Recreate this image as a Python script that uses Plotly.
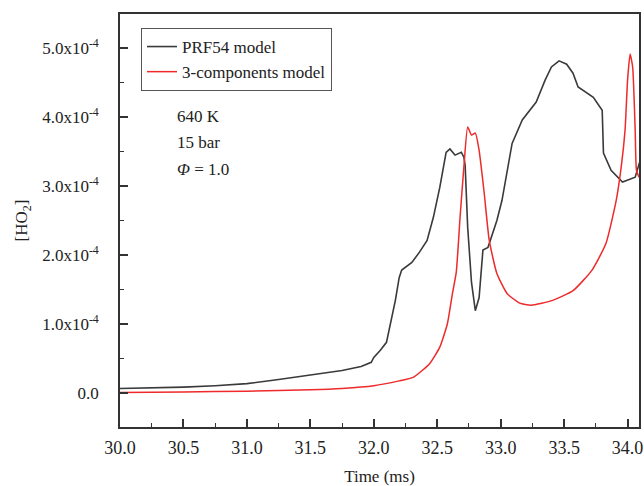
import plotly.graph_objects as go

# HO2 mole fraction histories (x1e-4) for the two kinetic models
prf54_time = [30.0, 30.25, 30.5, 30.75, 31.0, 31.25, 31.5, 31.75, 31.9, 31.98, 32.0, 32.05,
              32.1, 32.17, 32.2, 32.22, 32.3, 32.36, 32.42, 32.47, 32.52, 32.57, 32.6,
              32.64, 32.69, 32.71, 32.72, 32.74, 32.77, 32.80, 32.83, 32.86, 32.90, 32.97,
              33.01, 33.09, 33.17, 33.28, 33.35, 33.40, 33.46, 33.52, 33.57, 33.61, 33.73,
              33.80, 33.81, 33.87, 33.96, 34.06, 34.10]
prf54_ho2 = [0.06, 0.065, 0.08, 0.10, 0.13, 0.19, 0.26, 0.32, 0.38, 0.44, 0.51, 0.61,
             0.73, 1.34, 1.67, 1.78, 1.89, 2.04, 2.21, 2.55, 2.98, 3.49, 3.54,
             3.45, 3.49, 3.42, 3.3, 2.4, 1.6, 1.19, 1.38, 2.07, 2.11, 2.50,
             2.79, 3.62, 3.96, 4.22, 4.54, 4.73, 4.82, 4.77, 4.64, 4.44, 4.29,
             4.10, 3.48, 3.23, 3.06, 3.13, 3.38]

three_comp_time = [30.0, 30.5, 31.0, 31.5, 31.75, 32.0, 32.2, 32.31, 32.44, 32.52, 32.58,
                   32.62, 32.65, 32.68, 32.71, 32.74, 32.77, 32.80, 32.83, 32.87,
                   32.91, 32.97, 33.05, 33.15, 33.24, 33.41, 33.57, 33.72, 33.83, 33.91,
                   33.95, 33.98, 34.00, 34.02, 34.04, 34.06, 34.07, 34.09]
three_comp_ho2 = [0.0, 0.01, 0.02, 0.04, 0.06, 0.10, 0.17, 0.22, 0.42, 0.66, 1.0,
                  1.44, 1.75, 2.55, 3.28, 3.86, 3.74, 3.77, 3.52, 2.90,
                  2.21, 1.73, 1.44, 1.30, 1.27, 1.34, 1.48, 1.78, 2.17, 2.79,
                  3.28, 3.81, 4.54, 4.92, 4.73, 3.81, 3.23, 3.13]

x_ticks = [30.0, 30.5, 31.0, 31.5, 32.0, 32.5, 33.0, 33.5, 34.0]
y_ticks = [0.0, 1.0, 2.0, 3.0, 4.0, 5.0]
scale = 1e-4

FONT = "Liberation Serif, Times New Roman, serif"
INK = "#222"

fig = go.Figure()
fig.add_trace(go.Scatter(
    x=prf54_time, y=[v * scale for v in prf54_ho2], mode="lines",
    name="PRF54 model", line=dict(color="#3a3a3a", width=1.6)))
fig.add_trace(go.Scatter(
    x=three_comp_time, y=[v * scale for v in three_comp_ho2], mode="lines",
    name="3-components model",
    line=dict(color="#ee2a2a", width=1.5, shape="spline", smoothing=0.5)))

ytext = ["0.0"] + [f"{v:.1f}x10<sup>-4</sup>" for v in y_ticks[1:]]

fig.update_xaxes(
    range=[30.0, 34.09], tickvals=x_ticks, ticktext=[f"{v:.1f}" for v in x_ticks],
    ticks="inside", ticklen=8, tickwidth=1.5, tickcolor="#333",
    minor=dict(ticks="inside", ticklen=4, tickwidth=1.3, tickcolor="#333", dtick=0.25),
    showline=True, linecolor="#333", linewidth=1.6, mirror=True,
    showgrid=False, zeroline=False, ticklabelstandoff=4, automargin=False,
    title=dict(text="Time (ms)", font=dict(size=17, family=FONT, color=INK), standoff=17),
    tickfont=dict(size=18, family=FONT, color=INK))
fig.update_yaxes(
    range=[-0.5e-4, 5.5e-4], tickvals=[v * scale for v in y_ticks], ticktext=ytext,
    ticks="inside", ticklen=8, tickwidth=1.5, tickcolor="#333",
    minor=dict(ticks="inside", ticklen=4, tickwidth=1.3, tickcolor="#333",
               tickvals=[(v + 0.5) * scale for v in [-1.0] + y_ticks]),
    showline=True, linecolor="#333", linewidth=1.6, mirror=True,
    showgrid=False, zeroline=False, ticklabelstandoff=16, automargin=False,
    title=dict(text="[HO<sub>2</sub>]", font=dict(size=17, family=FONT, color=INK), standoff=10),
    tickfont=dict(size=17, family=FONT, color=INK))

for txt, yp in [("640 K", 116), ("15 bar", 142), ("<i>Φ</i> = 1.0", 170)]:
    fig.add_annotation(xref="paper", yref="paper", x=(175 - 120) / 519,
                       y=(427 - yp) / 413, text=txt, showarrow=False,
                       xanchor="left", yanchor="middle",
                       font=dict(size=17, family=FONT, color=INK))

fig.update_layout(
    width=644, height=486, margin=dict(l=120, r=5, t=14, b=59),
    plot_bgcolor="white", paper_bgcolor="white",
    legend=dict(x=(141 - 120) / 519, y=(427 - 28) / 413, xanchor="left", yanchor="top",
                bordercolor="#555", borderwidth=1, bgcolor="white",
                font=dict(size=17, family=FONT, color=INK),
                tracegroupgap=0, itemwidth=30),
    showlegend=True)

fig.write_html("out.html")
